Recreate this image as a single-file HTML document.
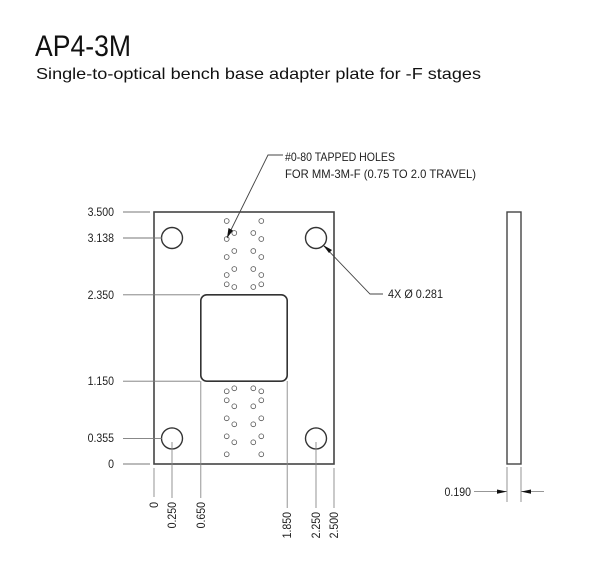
<!DOCTYPE html>
<html><head><style>
body{margin:0;background:#fff;}
svg{display:block;font-family:"Liberation Sans",sans-serif;}
</style></head><body>
<svg width="612" height="587" viewBox="0 0 612 587">
<text x="35" y="56" font-size="30" fill="#111" textLength="96" lengthAdjust="spacingAndGlyphs">AP4-3M</text>
<text x="36" y="79" font-size="16" fill="#111" textLength="445" lengthAdjust="spacingAndGlyphs">Single-to-optical bench base adapter plate for -F stages</text>

<!-- plate -->
<rect x="154" y="212" width="180" height="252" fill="none" stroke="#444" stroke-width="1.6"/>
<rect x="200.8" y="294.8" width="86.4" height="86.4" rx="6" fill="none" stroke="#333" stroke-width="1.6"/>
<g fill="none" stroke="#333" stroke-width="1.4">
<circle cx="172" cy="238" r="10.5"/><circle cx="316" cy="238" r="10.5"/>
<circle cx="172" cy="438.4" r="10.5"/><circle cx="316" cy="438.4" r="10.5"/>
</g>
<g fill="none" stroke="#555" stroke-width="0.8">
<circle cx="226.7" cy="221" r="2.4"/><circle cx="234.3" cy="233" r="2.4"/><circle cx="226.7" cy="239" r="2.4"/><circle cx="234.3" cy="251" r="2.4"/><circle cx="226.7" cy="257" r="2.4"/><circle cx="234.3" cy="269" r="2.4"/><circle cx="226.7" cy="275" r="2.4"/><circle cx="226.7" cy="284.3" r="2.4"/><circle cx="234.3" cy="287" r="2.4"/>
<circle cx="261.3" cy="221" r="2.4"/><circle cx="253.3" cy="233" r="2.4"/><circle cx="261.3" cy="239" r="2.4"/><circle cx="253.3" cy="251" r="2.4"/><circle cx="261.3" cy="257" r="2.4"/><circle cx="253.3" cy="269" r="2.4"/><circle cx="261.3" cy="275" r="2.4"/><circle cx="261.3" cy="284.3" r="2.4"/><circle cx="253.3" cy="287" r="2.4"/>
<circle cx="226.7" cy="391.3" r="2.4"/><circle cx="234.3" cy="388.3" r="2.4"/><circle cx="226.7" cy="400.3" r="2.4"/><circle cx="234.3" cy="406.3" r="2.4"/><circle cx="226.7" cy="418.3" r="2.4"/><circle cx="234.3" cy="424.3" r="2.4"/><circle cx="226.7" cy="436.3" r="2.4"/><circle cx="234.3" cy="442.3" r="2.4"/><circle cx="226.7" cy="454.3" r="2.4"/>
<circle cx="253.3" cy="388.3" r="2.4"/><circle cx="261.3" cy="391.3" r="2.4"/><circle cx="261.3" cy="400.3" r="2.4"/><circle cx="253.3" cy="406.3" r="2.4"/><circle cx="261.3" cy="418.3" r="2.4"/><circle cx="253.3" cy="424.3" r="2.4"/><circle cx="261.3" cy="436.3" r="2.4"/><circle cx="253.3" cy="442.3" r="2.4"/><circle cx="261.3" cy="454.3" r="2.4"/>
</g>

<!-- left dims -->
<g stroke="#777" stroke-width="0.9">
<line x1="123" y1="212" x2="150" y2="212"/>
<line x1="123" y1="238" x2="162" y2="238"/>
<line x1="123" y1="294.8" x2="200" y2="294.8"/>
<line x1="123" y1="381.2" x2="200" y2="381.2"/>
<line x1="123" y1="438.4" x2="162" y2="438.4"/>
<line x1="123" y1="464" x2="150" y2="464"/>
</g>
<g font-size="12" fill="#222" text-anchor="end">
<text x="114" y="216" transform="translate(13.7,0) scale(0.88,1)">3.500</text>
<text x="114" y="242" transform="translate(13.7,0) scale(0.88,1)">3.138</text>
<text x="114" y="299" transform="translate(13.7,0) scale(0.88,1)">2.350</text>
<text x="114" y="385" transform="translate(13.7,0) scale(0.88,1)">1.150</text>
<text x="114" y="442" transform="translate(13.7,0) scale(0.88,1)">0.355</text>
<text x="114" y="468" transform="translate(13.7,0) scale(0.88,1)">0</text>
</g>
<!-- bottom dims -->
<g stroke="#888" stroke-width="0.9">
<line x1="154" y1="468" x2="154" y2="497"/>
<line x1="172" y1="442" x2="172" y2="498"/>
<line x1="200.8" y1="381" x2="200.8" y2="498"/>
<line x1="287.2" y1="381" x2="287.2" y2="508"/>
<line x1="316" y1="442" x2="316" y2="508"/>
<line x1="334" y1="468" x2="334" y2="508"/>
</g>
<g font-size="12" fill="#222" text-anchor="end">
<text transform="translate(158,502) rotate(-90) scale(0.88,1)">0</text>
<text transform="translate(176,502) rotate(-90) scale(0.88,1)">0.250</text>
<text transform="translate(205,502) rotate(-90) scale(0.88,1)">0.650</text>
<text transform="translate(291,512) rotate(-90) scale(0.88,1)">1.850</text>
<text transform="translate(320,512) rotate(-90) scale(0.88,1)">2.250</text>
<text transform="translate(338,512) rotate(-90) scale(0.88,1)">2.500</text>
</g>

<!-- callouts -->
<polyline points="227,238 268,155 283,155" fill="none" stroke="#444" stroke-width="0.9"/>
<polygon points="227,238 228.5,228 233,230.5" fill="#111"/>
<text x="285" y="161" font-size="12" fill="#222" textLength="110" lengthAdjust="spacingAndGlyphs">#0-80 TAPPED HOLES</text>
<text x="285" y="178" font-size="12" fill="#222" textLength="191" lengthAdjust="spacingAndGlyphs">FOR MM-3M-F (0.75 TO 2.0 TRAVEL)</text>
<polyline points="323,245 370,294 383,294" fill="none" stroke="#444" stroke-width="0.9"/>
<polygon points="323,245 332,250 329,253" fill="#111"/>
<text x="388" y="298" font-size="12" fill="#222" textLength="55" lengthAdjust="spacingAndGlyphs">4X Ø 0.281</text>

<!-- side view -->
<rect x="507" y="212" width="14" height="252" fill="none" stroke="#444" stroke-width="1.4"/>
<g stroke="#888" stroke-width="0.9">
<line x1="507" y1="467" x2="507" y2="502"/>
<line x1="521" y1="467" x2="521" y2="502"/>
<line x1="474" y1="491.6" x2="507" y2="491.6"/>
<line x1="521" y1="491.6" x2="544" y2="491.6"/>
</g>
<polygon points="507,491.6 497,489.5 497,493.7" fill="#111"/>
<polygon points="521,491.6 531,489.5 531,493.7" fill="#111"/>
<text x="471" y="496" font-size="12" fill="#222" text-anchor="end" transform="translate(56.5,0) scale(0.88,1)">0.190</text>
</svg>
</body></html>
